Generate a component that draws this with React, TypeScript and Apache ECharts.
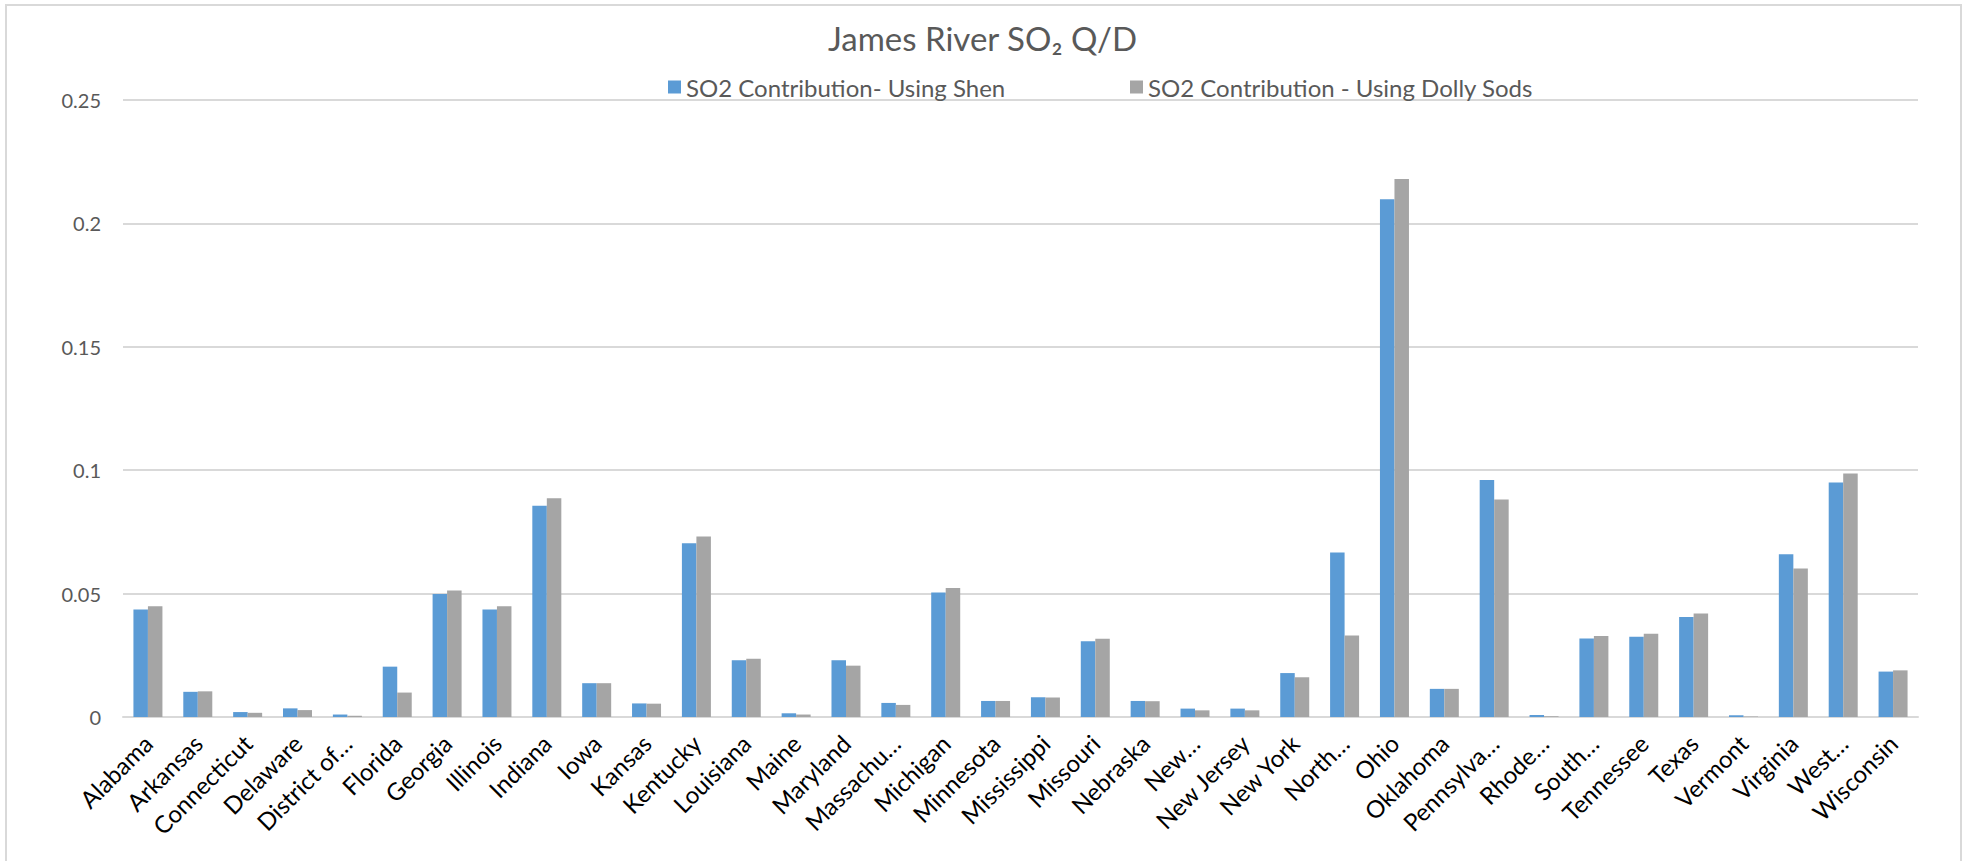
import React, { useEffect, useRef } from "react";
import * as echarts from "echarts";

// States along the x axis (long names shortened the way the axis shows them)
const states = [
  "Alabama", "Arkansas", "Connecticut", "Delaware", "District of…", "Florida",
  "Georgia", "Illinois", "Indiana", "Iowa", "Kansas", "Kentucky", "Louisiana",
  "Maine", "Maryland", "Massachu…", "Michigan", "Minnesota", "Mississippi",
  "Missouri", "Nebraska", "New…", "New Jersey", "New York", "North…", "Ohio",
  "Oklahoma", "Pennsylva…", "Rhode…", "South…", "Tennessee", "Texas",
  "Vermont", "Virginia", "West…", "Wisconsin",
];

// SO2 Q/D contribution computed with the Shenandoah reference
const usingShen = [
  0.0436, 0.0102, 0.002, 0.0035, 0.001, 0.0204,
  0.0498, 0.0436, 0.0856, 0.0137, 0.0055, 0.0704, 0.023,
  0.0015, 0.023, 0.0057, 0.0504, 0.0065, 0.008,
  0.0307, 0.0065, 0.0034, 0.0034, 0.0178, 0.0667, 0.2098,
  0.0114, 0.096, 0.0008, 0.0318, 0.0325, 0.0405,
  0.0007, 0.0659, 0.095, 0.0184,
];

// SO2 Q/D contribution computed with the Dolly Sods reference
const usingDollySods = [
  0.0449, 0.0104, 0.0017, 0.0028, 0.0005, 0.0099,
  0.0513, 0.0449, 0.0886, 0.0137, 0.0054, 0.0731, 0.0236,
  0.001, 0.0208, 0.0049, 0.0523, 0.0065, 0.0079,
  0.0317, 0.0064, 0.0027, 0.0027, 0.0161, 0.033, 0.218,
  0.0114, 0.0881, 0.0003, 0.0328, 0.0337, 0.0419,
  0.0002, 0.0602, 0.0987, 0.0189,
];

const seriesNames = [
  "SO2 Contribution- Using Shen",
  "SO2 Contribution - Using Dolly Sods",
];

const FONT = "Lato, 'Liberation Sans', sans-serif";

const legendStyle = {
  top: 70,
  itemWidth: 13,
  itemHeight: 13,
  itemGap: 5,
  icon: "rect",
  textStyle: { fontFamily: FONT, fontSize: 24, color: "#595959" },
};

export default function App() {
  const ref = useRef<HTMLDivElement>(null);

  useEffect(() => {
    if (!ref.current) return;
    const chart = echarts.init(ref.current, undefined, { renderer: "svg" });
    chart.setOption({
      animation: false,
      backgroundColor: "#ffffff",
      title: {
        text: "James River SO₂ Q/D",
        left: "center",
        top: 16,
        textStyle: {
          fontFamily: FONT,
          fontSize: 33,
          fontWeight: "normal",
          color: "#595959",
        },
      },
      legend: [
        { ...legendStyle, data: [seriesNames[0]], left: 663 },
        { ...legendStyle, data: [seriesNames[1]], left: 1125 },
      ],
      graphic: [
        {
          type: "rect",
          shape: { x: 6, y: 5, width: 1955, height: 870 },
          style: { fill: "none", stroke: "#D9D9D9", lineWidth: 2 },
          silent: true,
        },
      ],
      grid: { left: 123, right: 47, top: 100, bottom: 144, containLabel: false },
      xAxis: {
        type: "category",
        data: states,
        axisLine: { show: true, lineStyle: { color: "#D9D9D9", width: 2 } },
        axisTick: { show: false },
        axisLabel: {
          interval: 0,
          rotate: 45,
          margin: 22,
          fontFamily: FONT,
          fontSize: 24,
          color: "#000000",
        },
      },
      yAxis: {
        type: "value",
        min: 0,
        max: 0.25,
        interval: 0.05,
        axisLine: { show: false },
        axisTick: { show: false },
        splitLine: { lineStyle: { color: "#D9D9D9", width: 2 } },
        axisLabel: {
          margin: 22,
          fontFamily: FONT,
          fontSize: 20,
          color: "#595959",
        },
      },
      series: [
        {
          name: seriesNames[0],
          type: "bar",
          data: usingShen,
          barWidth: 14.5,
          barGap: "0%",
          itemStyle: { color: "#5B9BD5" },
        },
        {
          name: seriesNames[1],
          type: "bar",
          data: usingDollySods,
          barWidth: 14.5,
          barGap: "0%",
          itemStyle: { color: "#A5A5A5" },
        },
      ],
    });
    return () => chart.dispose();
  }, []);

  return (
    <div
      ref={ref}
      style={{ position: "fixed", left: 0, top: 0, width: 1965, height: 861 }}
    />
  );
}
